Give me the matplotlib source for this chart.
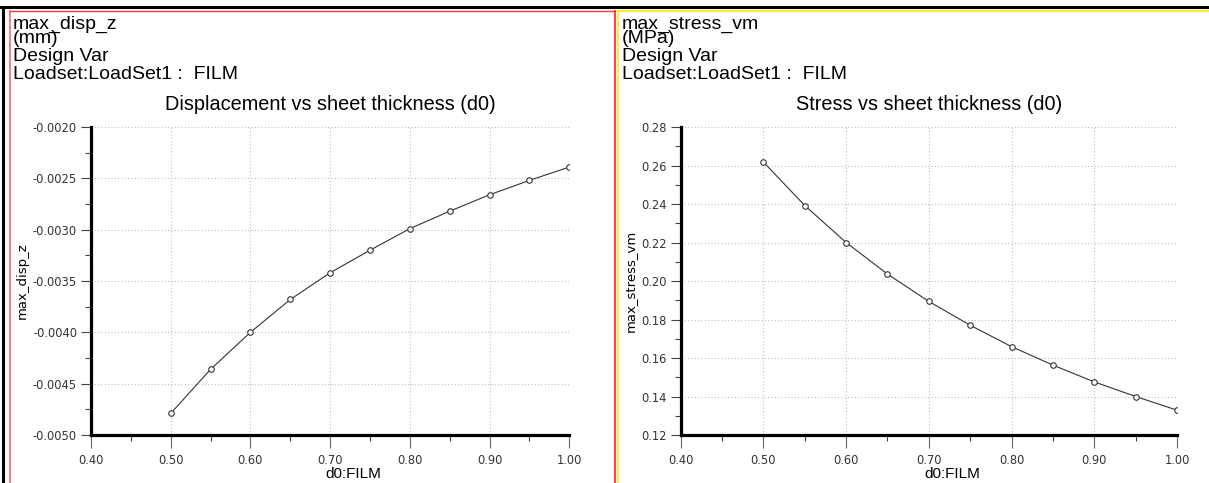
import matplotlib
matplotlib.use("Agg")
import matplotlib.pyplot as plt
from matplotlib.lines import Line2D
from matplotlib.ticker import MultipleLocator, FormatStrFormatter

# === Données ===
d0 = [0.50, 0.55, 0.60, 0.65, 0.70, 0.75, 0.80, 0.85, 0.90, 0.95, 1.00]
max_disp_z = [-0.00479, -0.00436, -0.00400, -0.00368, -0.00342, -0.00320,
              -0.00299, -0.00282, -0.00266, -0.00252, -0.00239]
max_stress_vm = [0.2618, 0.2392, 0.2200, 0.2036, 0.1894, 0.1770,
                 0.1659, 0.1563, 0.1476, 0.1400, 0.1329]

W, H = 1209, 483
HEAD_FONT = ["Liberation Sans", "DejaVu Sans"]

fig = plt.figure(figsize=(W / 100, H / 100), dpi=100)


def fx(px):
    return px / W


def fy(py):
    return 1 - py / H


def fig_line(xs, ys, color, lw):
    fig.add_artist(Line2D([fx(x) for x in xs], [fy(y) for y in ys],
                          color=color, lw=lw, transform=fig.transFigure))


# === Cadres ===
fig_line([0, W], [7, 7], "black", 2.2)
fig_line([3, 3], [7, H], "black", 2.2)
fig_line([10, 10], [10.5, H], "#ff6666", 1.2)
fig_line([10, 615], [10.5, 10.5], "#ff3333", 1.0)
fig_line([615, 615], [10.5, H], "#ff2222", 1.2)
fig_line([618, 618], [10.5, H], "#ffee33", 1.5)
fig_line([618, W], [10.5, 10.5], "#ffee33", 1.5)


def panel(x0, x1, data, ylab, unit, title, ylim, ystep, fmt, hx):
    ax = fig.add_axes([fx(x0), fy(435), fx(x1 - x0), (435 - 127) / H])
    ax.plot(d0, data, color="#333333", lw=0.8, marker="o", ms=4,
            mfc="white", mec="#333333", mew=0.8)
    ax.set_xlim(0.40, 1.00)
    ax.set_ylim(*ylim)
    ax.xaxis.set_major_locator(MultipleLocator(0.10))
    ax.xaxis.set_minor_locator(MultipleLocator(0.05))
    ax.yaxis.set_major_locator(MultipleLocator(ystep))
    ax.yaxis.set_minor_locator(MultipleLocator(ystep / 2))
    ax.xaxis.set_major_formatter(FormatStrFormatter("%.2f"))
    ax.yaxis.set_major_formatter(FormatStrFormatter(fmt))
    ax.grid(True, which="major", ls=(0, (1, 2)), color="#c0c0c0", lw=0.8)
    for s in ["top", "right"]:
        ax.spines[s].set_visible(False)
    for s in ["left", "bottom"]:
        ax.spines[s].set_linewidth(2.3)
    ax.tick_params(axis="y", which="major", length=7, width=0.8,
                   color="#444444", labelsize=8.3, labelcolor="#333333", pad=3)
    ax.tick_params(axis="y", which="minor", length=4, width=0.8, color="#444444")
    ax.tick_params(axis="x", which="major", length=9, width=0.8,
                   color="#666666", labelsize=8.3, labelcolor="#333333", pad=5)
    ax.tick_params(axis="x", which="minor", length=4, width=0.8, color="#444444")
    ax.set_ylabel(ylab, fontsize=9.5, labelpad=3)
    ax.text(0.49, -0.125, "d0:FILM", transform=ax.transAxes, ha="left",
            va="center", fontsize=11, family=HEAD_FONT)
    ax.set_title(title, fontsize=14.3, family=HEAD_FONT, pad=12)

    # en-tête
    fig.text(fx(hx), fy(29), ylab, fontsize=14, family=HEAD_FONT, va="baseline")
    fig.text(fx(hx), fy(43), unit, fontsize=14, family=HEAD_FONT, va="baseline")
    fig.text(fx(hx), fy(61), "Design Var", fontsize=14, family=HEAD_FONT, va="baseline")
    fig.text(fx(hx), fy(79), "Loadset:LoadSet1 :  FILM", fontsize=14,
             family=HEAD_FONT, va="baseline")
    return ax


panel(91, 569.3, max_disp_z, "max_disp_z", "(mm)",
      "Displacement vs sheet thickness (d0)", (-0.0050, -0.0020), 0.0005, "%.4f", 13)
panel(680.7, 1177, max_stress_vm, "max_stress_vm", "(MPa)",
      "Stress vs sheet thickness (d0)", (0.12, 0.28), 0.02, "%.2f", 622)

fig.savefig("out.png", dpi=100)
